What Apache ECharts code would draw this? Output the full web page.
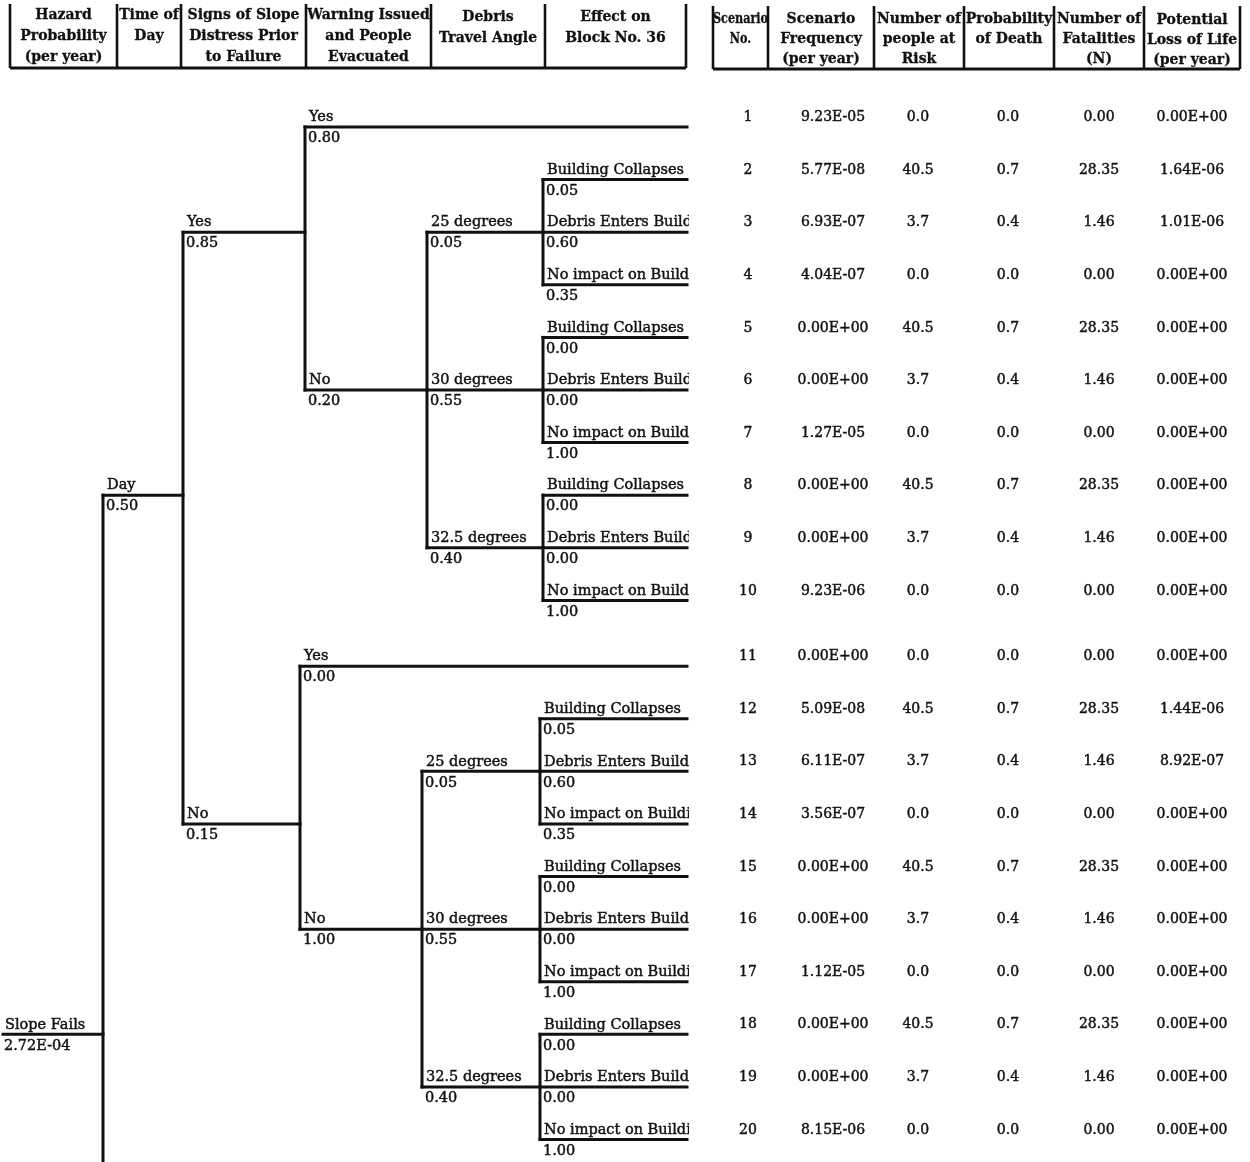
<!DOCTYPE html>
<html>
<head>
<meta charset="utf-8">
<script src="https://cdn.jsdelivr.net/npm/echarts@6/dist/echarts.min.js"></script>
<style>
  html, body { margin: 0; padding: 0; background: #fff; }
  #chart { width: 1250px; height: 1162px; }
</style>
</head>
<body>
<div id="chart"></div>
<script>
  // event tree branches
  const rootLabel = 'Slope Fails'
  const rootProb = '2.72E-04'
  const timeLabel = 'Day'
  const timeProb = '0.50'
  const signsLabels = ['Yes', 'No']
  const signsProbs = ['0.85', '0.15']
  const warningLabels = ['Yes', 'No']
  const warningProbs = [['0.80', '0.20'], ['0.00', '1.00']]
  const angleLabels = ['25 degrees', '30 degrees', '32.5 degrees']
  const angleProbs = ['0.05', '0.55', '0.40']
  const effectLabels = ['Building Collapses', 'Debris Enters Building', 'No impact on Building']
  const effectProbs = [['0.05', '0.60', '0.35'], ['0.00', '0.00', '1.00'], ['0.00', '0.00', '1.00']]

  // scenario rows the upper branches sit on
  const rootRow = 18.25
  const timeRow = 8
  const signsRows = [3, 14.25]

  // scenario table
  const scenarioNo = [1, 2, 3, 4, 5, 6, 7, 8, 9, 10, 11, 12, 13, 14, 15, 16, 17, 18, 19, 20]
  const scenarioFreq = ['9.23E-05', '5.77E-08', '6.93E-07', '4.04E-07', '0.00E+00', '0.00E+00', '1.27E-05',
    '0.00E+00', '0.00E+00', '9.23E-06', '0.00E+00', '5.09E-08', '6.11E-07', '3.56E-07', '0.00E+00',
    '0.00E+00', '1.12E-05', '0.00E+00', '0.00E+00', '8.15E-06']
  const peopleAtRisk = ['0.0', '40.5', '3.7', '0.0', '40.5', '3.7', '0.0', '40.5', '3.7', '0.0',
    '0.0', '40.5', '3.7', '0.0', '40.5', '3.7', '0.0', '40.5', '3.7', '0.0']
  const probDeath = ['0.0', '0.7', '0.4', '0.0', '0.7', '0.4', '0.0', '0.7', '0.4', '0.0',
    '0.0', '0.7', '0.4', '0.0', '0.7', '0.4', '0.0', '0.7', '0.4', '0.0']
  const fatalities = ['0.00', '28.35', '1.46', '0.00', '28.35', '1.46', '0.00', '28.35', '1.46', '0.00',
    '0.00', '28.35', '1.46', '0.00', '28.35', '1.46', '0.00', '28.35', '1.46', '0.00']
  const lossOfLife = ['0.00E+00', '1.64E-06', '1.01E-06', '0.00E+00', '0.00E+00', '0.00E+00', '0.00E+00',
    '0.00E+00', '0.00E+00', '0.00E+00', '0.00E+00', '1.44E-06', '8.92E-07', '0.00E+00', '0.00E+00',
    '0.00E+00', '0.00E+00', '0.00E+00', '0.00E+00', '0.00E+00']

  const treeHeaders = ['Hazard\nProbability\n(per year)', 'Time of\nDay', 'Signs of Slope\nDistress Prior\nto Failure',
    'Warning Issued\nand People\nEvacuated', 'Debris\nTravel Angle', 'Effect on\nBlock No. 36']
  const tableHeaders = ['Scenario\nNo.', 'Scenario\nFrequency\n(per year)', 'Number of\npeople at\nRisk',
    'Probability\nof Death', 'Number of\nFatalities\n(N)', 'Potential\nLoss of Life\n(per year)']

  // layout
  const firstRowPx = 127
  const rowPx = 52.6
  const rowGap = 0.25
  const yMin = 1 - firstRowPx / rowPx
  const yMax = 1 + (1162 - firstRowPx) / rowPx
  const treeRight = 689
  const rootX = 3
  const timeX = 103
  const signsX = 183
  const junctionX = [[305, 427, 543], [300, 422, 540]]
  const endX = 687
  const tableX = [748, 833, 918, 1008, 1099, 1192]
  const treeCols = [10, 117, 181, 306, 431, 545, 686]
  const tableCols = [713, 768, 874, 964, 1054, 1144, 1240]
  const treeHeadTop = [4.5, 4.5, 4.5, 5, 6.5, 6.5]
  const tableHeadTop = [9.5, 9.5, 9.5, 9.5, 9.5, 10]
  const ink = '#111'

  const rowOf = (n) => n + (n > 10 ? rowGap : 0)

  const segments = []
  const treeTexts = []
  const seg = (x1, y1, x2, y2) => segments.push([x1, y1, x2, y2])
  const branch = (x1, x2, row, label, prob, dx = 4) => {
    seg(x1, row, x2, row)
    treeTexts.push({ value: [x1 + dx, row], text: label, kind: 'label' })
    treeTexts.push({ value: [x1 + dx - 1, row], text: prob, kind: 'prob' })
  }

  // root and time of day
  branch(rootX, timeX, rootRow, rootLabel, rootProb, 2)
  seg(timeX, timeRow, timeX, yMax + 1)
  branch(timeX, signsX, timeRow, timeLabel, timeProb)
  seg(signsX, signsRows[0], signsX, signsRows[1])

  signsLabels.forEach((sl, s) => {
    const [wx, ax, ex] = junctionX[s]
    const base = s * 10
    branch(signsX, wx, signsRows[s], sl, signsProbs[s])
    const yesRow = rowOf(base + 1)
    const angleRows = angleLabels.map((_, a) => rowOf(base + 3 + a * 3))
    const noRow = angleRows[1]
    seg(wx, yesRow, wx, noRow)
    branch(wx, endX, yesRow, warningLabels[0], warningProbs[s][0])
    branch(wx, ax, noRow, warningLabels[1], warningProbs[s][1])
    seg(ax, angleRows[0], ax, angleRows[2])
    angleLabels.forEach((al, a) => {
      branch(ax, ex, angleRows[a], al, angleProbs[a])
      const effRows = effectLabels.map((_, e) => rowOf(base + 2 + a * 3 + e))
      seg(ex, effRows[0], ex, effRows[2])
      effectLabels.forEach((el, e) => {
        branch(ex, endX, effRows[e], el, effectProbs[a][e])
      })
    })
  })

  // table cells
  const cellTexts = []
  const tableColumns = [scenarioNo.map(String), scenarioFreq, peopleAtRisk, probDeath, fatalities, lossOfLife]
  tableColumns.forEach((col, c) => {
    col.forEach((v, i) => {
      cellTexts.push({ value: [tableX[c], rowOf(scenarioNo[i])], text: v })
    })
  })

  // header graphics
  const headerGraphics = []
  const headerBox = (cols, top, bottom) => {
    cols.forEach((x) => headerGraphics.push({
      type: 'line', shape: { x1: x, y1: top, x2: x, y2: bottom },
      style: { stroke: ink, lineWidth: 2.6 }
    }))
    headerGraphics.push({
      type: 'line', shape: { x1: cols[0], y1: bottom, x2: cols[cols.length - 1], y2: bottom },
      style: { stroke: ink, lineWidth: 2.8 }
    })
  }
  headerBox(treeCols, 4, 68)
  headerBox(tableCols, 6, 69)
  const headerText = (labels, cols, tops, lh) => {
    labels.forEach((t, i) => {
      const cx = (cols[i] + cols[i + 1]) / 2
      const narrow = cols[i + 1] - cols[i] < 60
      headerGraphics.push({
        type: 'text',
        x: cx,
        y: tops[i],
        originX: 0,
        scaleX: narrow ? 0.8 : 1,
        style: {
          text: t, fill: ink, align: 'center', verticalAlign: 'top',
          font: 'bold 14px "DejaVu Serif"', lineHeight: lh,
          stroke: ink, lineWidth: 0.3
        }
      })
    })
  }
  headerText(treeHeaders, treeCols, treeHeadTop, 21)
  headerText(tableHeaders, tableCols, tableHeadTop, 20)

  const textItem = (t, p, font, align, vAlign, dy) => ({
    type: 'text',
    x: p[0],
    y: p[1] + dy,
    style: {
      text: t.text, fill: ink, font, align, verticalAlign: vAlign,
      stroke: ink, lineWidth: 0.45
    }
  })

  const chart = echarts.init(document.getElementById('chart'))

  chart.setOption({
    backgroundColor: '#fff',
    animation: false,
    grid: [
      { left: 0, top: 0, bottom: 0, width: treeRight },
      { left: treeRight, top: 0, bottom: 0, right: 0 }
    ],
    xAxis: [
      { type: 'value', gridIndex: 0, min: 0, max: treeRight, show: false },
      { type: 'value', gridIndex: 1, min: treeRight, max: 1250, show: false }
    ],
    yAxis: [
      { type: 'value', gridIndex: 0, min: yMin, max: yMax, inverse: true, show: false },
      { type: 'value', gridIndex: 1, min: yMin, max: yMax, inverse: true, show: false }
    ],
    graphic: { elements: headerGraphics },
    series: [
      {
        type: 'custom',
        xAxisIndex: 0,
        yAxisIndex: 0,
        silent: true,
        clip: false,
        encode: { x: [0, 2], y: [1, 3] },
        data: segments,
        renderItem: (params, api) => {
          const p1 = api.coord([api.value(0), api.value(1)])
          const p2 = api.coord([api.value(2), api.value(3)])
          return {
            type: 'line',
            shape: { x1: p1[0], y1: p1[1], x2: p2[0], y2: p2[1] },
            style: { stroke: ink, lineWidth: 3, lineCap: 'square' }
          }
        }
      },
      {
        // branch labels and probabilities, clipped at the tree's right edge
        type: 'custom',
        xAxisIndex: 0,
        yAxisIndex: 0,
        silent: true,
        clip: true,
        data: treeTexts,
        renderItem: (params, api) => {
          const t = treeTexts[params.dataIndex]
          const p = api.coord(t.value)
          return t.kind === 'label'
            ? textItem(t, p, '14.5px "DejaVu Serif"', 'left', 'bottom', -2)
            : textItem(t, p, '14.5px "DejaVu Serif"', 'left', 'top', 4)
        }
      },
      {
        type: 'custom',
        xAxisIndex: 1,
        yAxisIndex: 1,
        silent: true,
        data: cellTexts,
        renderItem: (params, api) => {
          const t = cellTexts[params.dataIndex]
          const p = api.coord(t.value)
          return textItem(t, p, '14px "DejaVu Serif"', 'center', 'middle', -9.5)
        }
      }
    ]
  })

  window.addEventListener('resize', () => chart.resize())
</script>
</body>
</html>
